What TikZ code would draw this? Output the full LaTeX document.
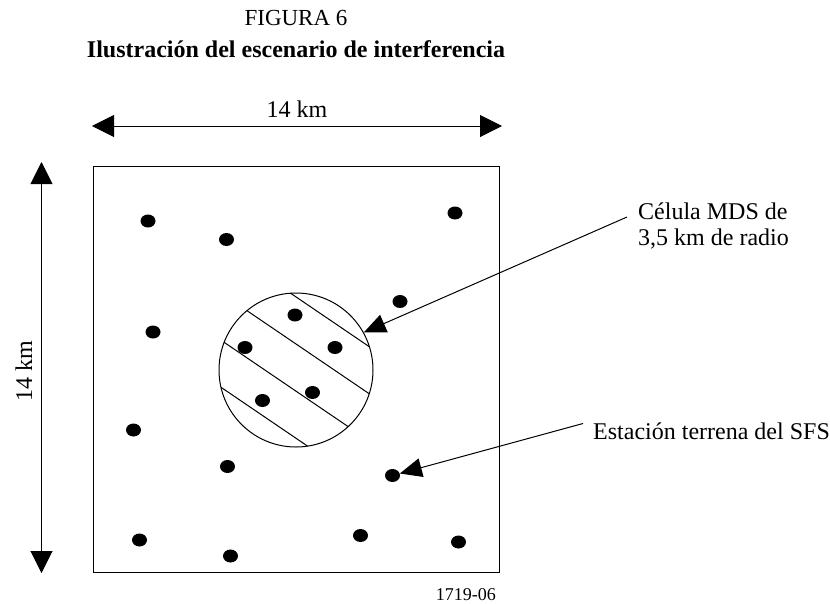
\documentclass[tikz,border=0pt]{standalone}
\usepackage{fontspec}
\setmainfont{Liberation Serif}
\usetikzlibrary{arrows.meta,shapes.geometric}
\begin{document}
\begin{tikzpicture}[x=1pt,y=-1pt,
  thinline/.style={line width=1pt, draw=black},
  dot/.style={ellipse, fill=black, minimum width=15pt, minimum height=13pt, inner sep=0pt},
  measure/.style={line width=1pt, {Triangle[length=22pt,width=22pt]}-{Triangle[length=22pt,width=22pt]}},
  pointer/.style={line width=1pt, -{Triangle[length=22pt,width=19pt]}},
  lbl/.style={font=\fontsize{24}{28}\selectfont, inner sep=0pt},
]
\useasboundingbox (0,0) rectangle (830,603);
% titles
\node[lbl, font=\fontsize{23}{27}\selectfont, anchor=base] (fig) at (296,25) {FIGURA 6};
\node[lbl, font=\fontsize{24}{28}\selectfont\bfseries, anchor=base] (title) at (296,57) {Ilustración del escenario de interferencia};
% square
\node[draw, line width=1pt, minimum width=406pt, minimum height=406pt, inner sep=0pt] (sq) at (296,369) {};
% measures
\coordinate (hl) at (92,126);
\coordinate (hr) at (502,126);
\draw[measure] (hl) -- (hr);
\node[lbl, anchor=base] (hlab) at (297,117) {14 km};
\coordinate (vt) at (41.5,162);
\coordinate (vb) at (41.5,573);
\draw[measure] (vt) -- (vb);
\node[lbl, rotate=90, anchor=base] (vlab) at (32,371) {14 km};
% cell
\node[circle, draw, line width=1pt, minimum size=154pt, inner sep=0pt] (cell) at (296,370) {};
\begin{scope}
  \clip (296,370) circle (77pt);
  \draw[thinline] (247.3,263.8) -- (412.7,376.2);
  \draw[thinline] (225.4,296.0) -- (390.8,408.4);
  \draw[thinline] (203.5,328.3) -- (368.9,440.7);
  \draw[thinline] (181.6,360.5) -- (347.0,472.9);
\end{scope}
% dots
\node[dot] (d1) at (148,221) {};
\node[dot] (d2) at (226.5,239.5) {};
\node[dot] (d3) at (455,213) {};
\node[dot] (d4) at (400,301.5) {};
\node[dot] (d5) at (153,332) {};
\node[dot] (d6) at (295,315) {};
\node[dot] (d7) at (245,347.5) {};
\node[dot] (d8) at (335,347.5) {};
\node[dot] (d9) at (312.5,392.5) {};
\node[dot] (d10) at (262.5,400.5) {};
\node[dot] (d11) at (133.5,430) {};
\node[dot] (d12) at (227.5,466.5) {};
\node[dot] (d13) at (392.5,475.5) {};
\node[dot] (d14) at (139.5,540) {};
\node[dot] (d15) at (230.5,556) {};
\node[dot] (d16) at (360.5,535.5) {};
\node[dot] (d17) at (458.5,542) {};
% labels
\node[lbl, anchor=base west] (cl1) at (638,219.5) {Célula MDS de};
\node[lbl, anchor=base west] (cl2) at (638,245.5) {3,5 km de radio};
\node[lbl, anchor=base west] (es) at (593,439.5) {Estación terrena del SFS};
\coordinate (t1) at (627,217);
\coordinate (t2) at (583,423.5);
\draw[pointer] (t1) -- (cell.29);
\draw[pointer] (t2) -- (d13);
% code
\node[lbl, font=\fontsize{18}{20}\selectfont, anchor=base east] (code) at (496,600) {1719-06};
\end{tikzpicture}
\end{document}
